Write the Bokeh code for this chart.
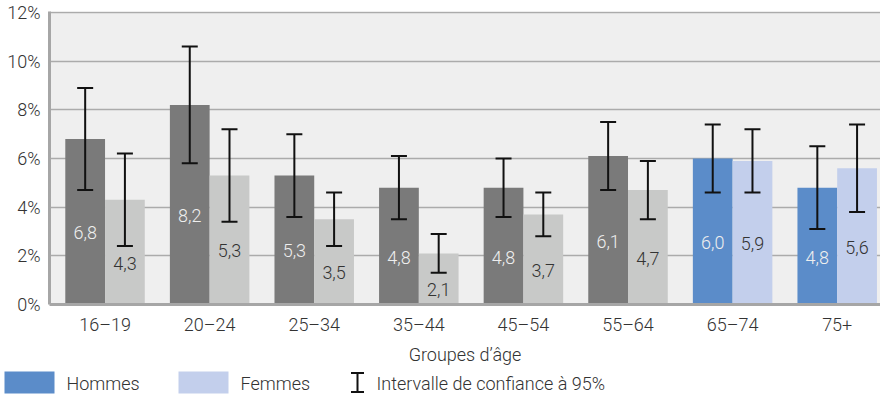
from bokeh.plotting import figure
from bokeh.models import ColumnDataSource, Whisker, TeeHead, Range1d, FixedTicker
from bokeh.layouts import column
from bokeh.embed import file_html
from bokeh.resources import INLINE
from bokeh.core.properties import value

# ---------------- data ----------------
categories = ["16–19", "20–24", "25–34", "35–44", "45–54", "55–64", "65–74", "75+"]
hommes = [6.8, 8.2, 5.3, 4.8, 4.8, 6.1, 6.0, 4.8]
femmes = [4.3, 5.3, 3.5, 2.1, 3.7, 4.7, 5.9, 5.6]
hommes_low = [4.7, 5.8, 3.6, 3.5, 3.6, 4.7, 4.6, 3.1]
hommes_high = [8.9, 10.6, 7.0, 6.1, 6.0, 7.5, 7.4, 6.5]
femmes_low = [2.4, 3.4, 2.4, 1.3, 2.8, 3.5, 4.6, 3.8]
femmes_high = [6.2, 7.2, 4.6, 2.9, 4.6, 5.9, 7.2, 7.4]
y_ticks = [0, 2, 4, 6, 8, 10, 12]
highlight = ["65–74", "75+"]
series_names = ["Hommes", "Femmes"]
ci_label = "Intervalle de confiance à 95%"
x_title = "Groupes d’âge"

# ---------------- style ----------------
FONT = "Roboto Light"
FS = "18px"
TXT = "#333333"
dark_grey, light_grey = "#7a7a7a", "#c8c9c8"
blue, light_blue = "#5b8cc9", "#c3cfec"
off, bw = 0.19, 0.38

n = len(categories)
idx = list(range(n))
h_colors = [blue if c in highlight else dark_grey for c in categories]
f_colors = [light_blue if c in highlight else light_grey for c in categories]


def fmt(v):
    return f"{v:.1f}".replace(".", ",")


src_h = ColumnDataSource(dict(
    x=[i - off for i in idx], top=hommes, lo=hommes_low, hi=hommes_high,
    color=h_colors, label=[fmt(v) for v in hommes], ly=[v / 2 - 0.45 for v in hommes]))
src_f = ColumnDataSource(dict(
    x=[i + off for i in idx], top=femmes, lo=femmes_low, hi=femmes_high,
    color=f_colors, label=[fmt(v) for v in femmes], ly=[v / 2 - 0.45 for v in femmes]))

p = figure(width=880, height=370, x_range=Range1d(-0.531, 7.414), y_range=Range1d(0, 12.04),
           output_backend="svg", toolbar_location=None,
           min_border_left=49, min_border_right=0, min_border_top=11, min_border_bottom=66)
p.frame_align = False
p.background_fill_color = "#efefef"
p.border_fill_color = "white"
p.outline_line_color = None

p.vbar(x="x", top="top", width=bw, bottom=0, color="color", line_color=None, source=src_h)
p.vbar(x="x", top="top", width=bw, bottom=0, color="color", line_color=None, source=src_f)

p.text(x="x", y="ly", text="label", source=src_h, text_align="center", text_baseline="middle",
       text_font=value(FONT), text_font_size=FS, text_color="#eeeeee")
p.text(x="x", y="ly", text="label", source=src_f, text_align="center", text_baseline="middle",
       text_font=value(FONT), text_font_size=FS, text_color="#333333")

for src in (src_h, src_f):
    w = Whisker(base="x", upper="hi", lower="lo", source=src, line_color="#111111", line_width=2,
                level="overlay",
                upper_head=TeeHead(size=16, line_width=2, line_color="#111111"),
                lower_head=TeeHead(size=16, line_width=2, line_color="#111111"))
    p.add_layout(w)

# axes
p.xaxis.ticker = FixedTicker(ticks=idx)
p.xaxis.major_label_overrides = {i: c for i, c in zip(idx, categories)}
p.yaxis.ticker = FixedTicker(ticks=y_ticks)
p.yaxis.major_label_overrides = {t: f"{t}%" for t in y_ticks}
for ax in (p.xaxis, p.yaxis):
    ax.axis_line_color = "#a6a6a6"
    ax.axis_line_width = 3
    ax.major_tick_line_color = None
    ax.minor_tick_line_color = None
    ax.major_tick_out = 0
    ax.major_tick_in = 0
    ax.minor_tick_out = 0
    ax.major_label_text_font = FONT
    ax.major_label_text_font_size = FS
    ax.major_label_text_color = TXT
p.yaxis.major_label_standoff = 9
p.xaxis.major_label_standoff = 9
p.xaxis.axis_label = x_title
p.xaxis.axis_label_text_font = FONT
p.xaxis.axis_label_text_font_size = FS
p.xaxis.axis_label_text_font_style = "normal"
p.xaxis.axis_label_text_color = TXT
p.xaxis.axis_label_standoff = 6

p.xgrid.visible = False
p.ygrid.ticker = FixedTicker(ticks=y_ticks)
p.ygrid.grid_line_color = "#ababab"
p.ygrid.grid_line_width = 1.6

# ---------------- legend strip (pixel coordinates) ----------------
LW, LH = 880, 24
lg = figure(width=LW, height=LH, x_range=Range1d(0, LW), y_range=Range1d(LH, 0),
            output_backend="svg", toolbar_location=None,
            x_axis_location=None, y_axis_location=None,
            min_border_left=0, min_border_right=0, min_border_top=0, min_border_bottom=0)
lg.frame_align = False
lg.outline_line_color = None
lg.background_fill_color = "white"
lg.border_fill_color = "white"
lg.grid.visible = False

sw_w, sw_top, sw_bot, gap, x0 = 50, 1, 23, 174, 4
sw_left = [x0 + k * gap for k in range(len(series_names))]
lg.quad(left=sw_left, right=[l + sw_w for l in sw_left], top=[sw_top] * 2, bottom=[sw_bot] * 2,
        color=[blue, light_blue], line_color=None)
ic = 357
lg.segment(x0=[ic, ic - 6.5, ic - 6.5], y0=[2.5, 2.5, 21.5], x1=[ic, ic + 6.5, ic + 6.5], y1=[21.5, 2.5, 21.5],
           line_color="#111111", line_width=2)
lg.text(x=[l + sw_w + 12 for l in sw_left] + [ic + 19], y=[13] * 3,
        text=series_names + [ci_label], text_baseline="middle",
        text_font=value(FONT), text_font_size=FS, text_color=TXT)

layout = column(p, lg)
open("out.html", "w").write(file_html(layout, INLINE))
